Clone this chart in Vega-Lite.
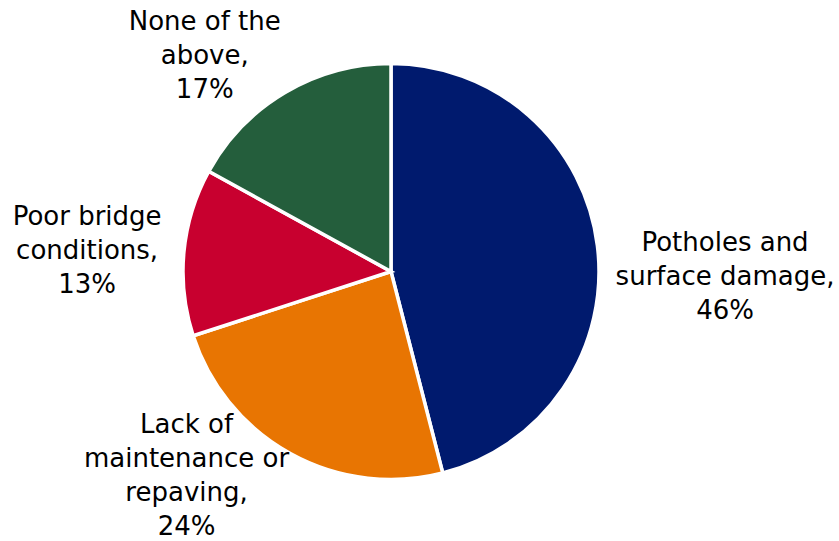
{
  "$schema": "https://vega.github.io/schema/vega-lite/v6.json",
  "autosize": "none",
  "width": 782,
  "height": 539,
  "padding": {"left": 0, "right": 57, "top": 2, "bottom": 0},
  "background": "white",
  "view": {"stroke": null},
  "data": {
    "values": [
      {"category": "Potholes and surface damage", "rank": 1, "value": 46, "label": "Potholes and\nsurface damage,\n46%"},
      {"category": "Lack of maintenance or repaving", "rank": 2, "value": 24, "label": "Lack of\nmaintenance or\nrepaving,\n24%"},
      {"category": "Poor bridge conditions", "rank": 3, "value": 13, "label": "Poor bridge\nconditions,\n13%"},
      {"category": "None of the above", "rank": 4, "value": 17, "label": "None of the\nabove,\n17%"}
    ]
  },
  "encoding": {
    "theta": {"field": "value", "type": "quantitative", "stack": true},
    "order": {"field": "rank", "type": "quantitative", "sort": "ascending"}
  },
  "layer": [
    {
      "mark": {"type": "arc", "radius": 208, "stroke": "white", "strokeWidth": 3.5},
      "encoding": {
        "color": {
          "field": "category",
          "type": "nominal",
          "scale": {
            "domain": ["Potholes and surface damage", "Lack of maintenance or repaving", "Poor bridge conditions", "None of the above"],
            "range": ["#001A6E", "#E87502", "#C8002F", "#245E3C"]
          },
          "legend": null
        }
      }
    },
    {
      "mark": {"type": "text", "radius": 250, "dx": 86, "dy": 3, "align": "center", "baseline": "middle", "font": "DejaVu Sans", "fontSize": 26, "lineHeight": 34, "lineBreak": "\n", "color": "#000000"},
      "encoding": {
        "text": {"condition": {"test": "datum.category === 'Potholes and surface damage'", "field": "label", "type": "nominal"}, "value": ""}
      }
    },
    {
      "mark": {"type": "text", "radius": 250, "dx": -84, "dy": -66, "align": "center", "baseline": "middle", "font": "DejaVu Sans", "fontSize": 26, "lineHeight": 34, "lineBreak": "\n", "color": "#000000"},
      "encoding": {
        "text": {"condition": {"test": "datum.category === 'Lack of maintenance or repaving'", "field": "label", "type": "nominal"}, "value": ""}
      }
    },
    {
      "mark": {"type": "text", "radius": 250, "dx": -55, "dy": -31, "align": "center", "baseline": "middle", "font": "DejaVu Sans", "fontSize": 26, "lineHeight": 34, "lineBreak": "\n", "color": "#000000"},
      "encoding": {
        "text": {"condition": {"test": "datum.category === 'Poor bridge conditions'", "field": "label", "type": "nominal"}, "value": ""}
      }
    },
    {
      "mark": {"type": "text", "radius": 250, "dx": -59, "dy": -34, "align": "center", "baseline": "middle", "font": "DejaVu Sans", "fontSize": 26, "lineHeight": 34, "lineBreak": "\n", "color": "#000000"},
      "encoding": {
        "text": {"condition": {"test": "datum.category === 'None of the above'", "field": "label", "type": "nominal"}, "value": ""}
      }
    }
  ]
}
